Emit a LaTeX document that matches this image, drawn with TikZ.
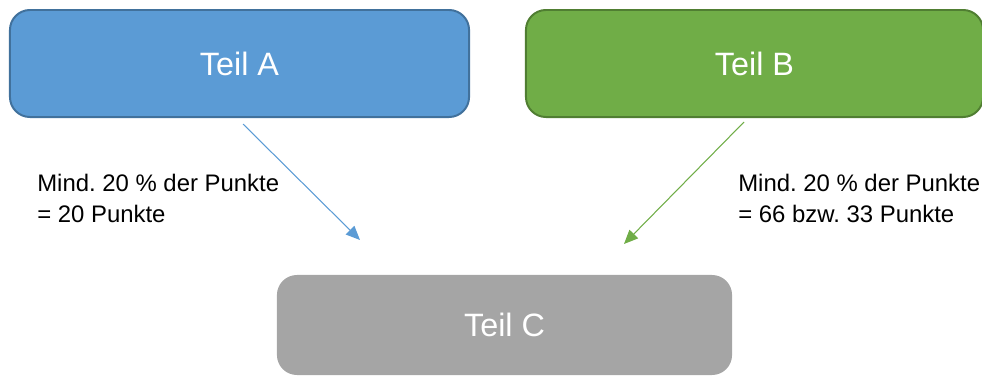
\documentclass[tikz,border=0pt]{standalone}
\usepackage{fontspec}
\setmainfont{Liberation Sans}
\usepackage{xcolor}
\usetikzlibrary{arrows.meta}
\definecolor{blueA}{HTML}{5B9BD5}
\definecolor{blueAline}{HTML}{41719C}
\definecolor{greenB}{HTML}{70AD47}
\definecolor{greenBline}{HTML}{507E32}
\definecolor{grayC}{HTML}{A5A5A5}
\frenchspacing
\tikzset{
  teil/.style={rounded corners=0.5cm, line width=1.4pt, inner sep=0pt, text=white,
    minimum height=2.675cm, font=\fontsize{23}{27}\selectfont},
  lbl/.style={anchor=west, align=left, inner sep=0pt, font=\fontsize{17}{22}\selectfont},
  pfeil/.style={-{Triangle[length=0.35cm,width=0.3cm]}, line width=0.75pt}}
\begin{document}
\begin{tikzpicture}[x=0.025cm,y=-0.025cm]
\useasboundingbox (0,0) rectangle (982,376);
\node[teil, draw=blueAline, fill=blueA, minimum width=11.475cm] (tA) at (239.5,63.5) {Teil A};
\node[teil, draw=greenBline, fill=greenB, minimum width=11.425cm] (tB) at (754.5,63.5) {Teil B};
\node[teil, fill=grayC, minimum width=11.375cm, minimum height=2.5cm] (tC) at (504.5,325) {Teil C};

\coordinate (a1) at (243,124);
\coordinate (a2) at (360,240);
\coordinate (b1) at (744,122);
\coordinate (b2) at (624,244);
\draw[pfeil, blueA] (a1) -- (a2);
\draw[pfeil, greenB] (b1) -- (b2);

\node[lbl] (lA) at (37,198.5) {Mind. 20 \% der Punkte\\= 20 Punkte};
\node[lbl] (lB) at (738,198.5) {Mind. 20 \% der Punkte\\= 66 bzw. 33 Punkte};
\end{tikzpicture}
\end{document}
